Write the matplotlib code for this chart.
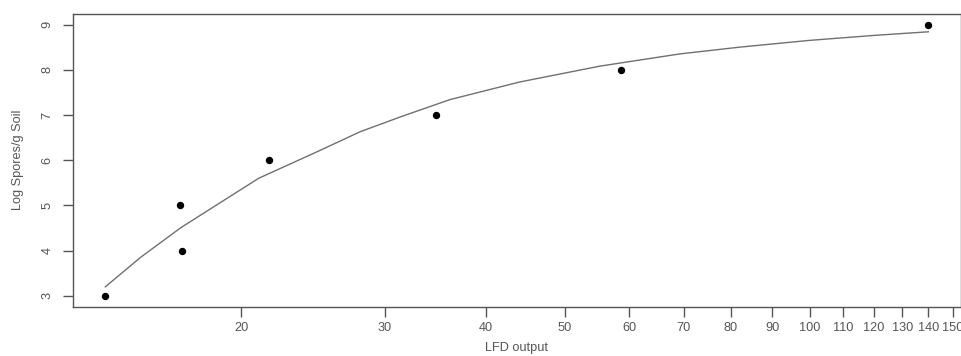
import matplotlib
matplotlib.use("Agg")
import matplotlib.pyplot as plt
from matplotlib.ticker import FixedLocator, NullLocator, FixedFormatter

plt.rcParams['font.family'] = ['Liberation Sans', 'DejaVu Sans']

# observed points
lfd = [13.6, 16.8, 16.9, 21.6, 34.7, 58.6, 140]
log_spores = [3, 5, 4, 6, 7, 8, 9]

# fitted curve
curve_x = [13.6, 15.05, 16.85, 21.0, 24.8, 28.0, 31.4, 36.1, 44.0, 55.2, 69.2, 82.0, 100, 120, 140]
curve_y = [3.20, 3.86, 4.51, 5.60, 6.19, 6.63, 6.96, 7.34, 7.73, 8.08, 8.35, 8.50, 8.65, 8.76, 8.84]

xticks = [20, 30, 40, 50, 60, 70, 80, 90, 100, 110, 120, 130, 140, 150]
yticks = [3, 4, 5, 6, 7, 8, 9]

grey = '#555555'

fig = plt.figure(figsize=(9.62, 3.56), dpi=100)
ax = fig.add_axes([0.0756, 0.1385, 0.9234, 0.823])

ax.plot(curve_x, curve_y, color='#707070', lw=1.0)
ax.plot(lfd, log_spores, 'o', color='black', ms=4.3)

ax.set_xscale('log')
ax.set_xlim(12.4, 153.6)
ax.set_ylim(2.76, 9.24)

ax.xaxis.set_major_locator(FixedLocator(xticks))
ax.xaxis.set_major_formatter(FixedFormatter([str(t) for t in xticks]))
ax.xaxis.set_minor_locator(NullLocator())
ax.set_yticks(yticks)
ax.set_yticklabels([str(t) for t in yticks], rotation=90, va='center')

ax.tick_params(axis='both', length=7, width=1, color=grey, labelcolor=grey, labelsize=9.2)
ax.tick_params(axis='x', pad=4)
ax.tick_params(axis='y', pad=7)
for s in ax.spines.values():
    s.set_color(grey)
    s.set_linewidth(1.0)

# axis titles placed like the R original
fig.text(0.5373, 0.006, 'LFD output', color=grey, fontsize=9.2, ha='center', va='bottom')
fig.text(0.019, 0.55, 'Log Spores/g Soil', color=grey, fontsize=9.2, ha='center', va='center', rotation=90)

fig.savefig('out.png', dpi=100)
